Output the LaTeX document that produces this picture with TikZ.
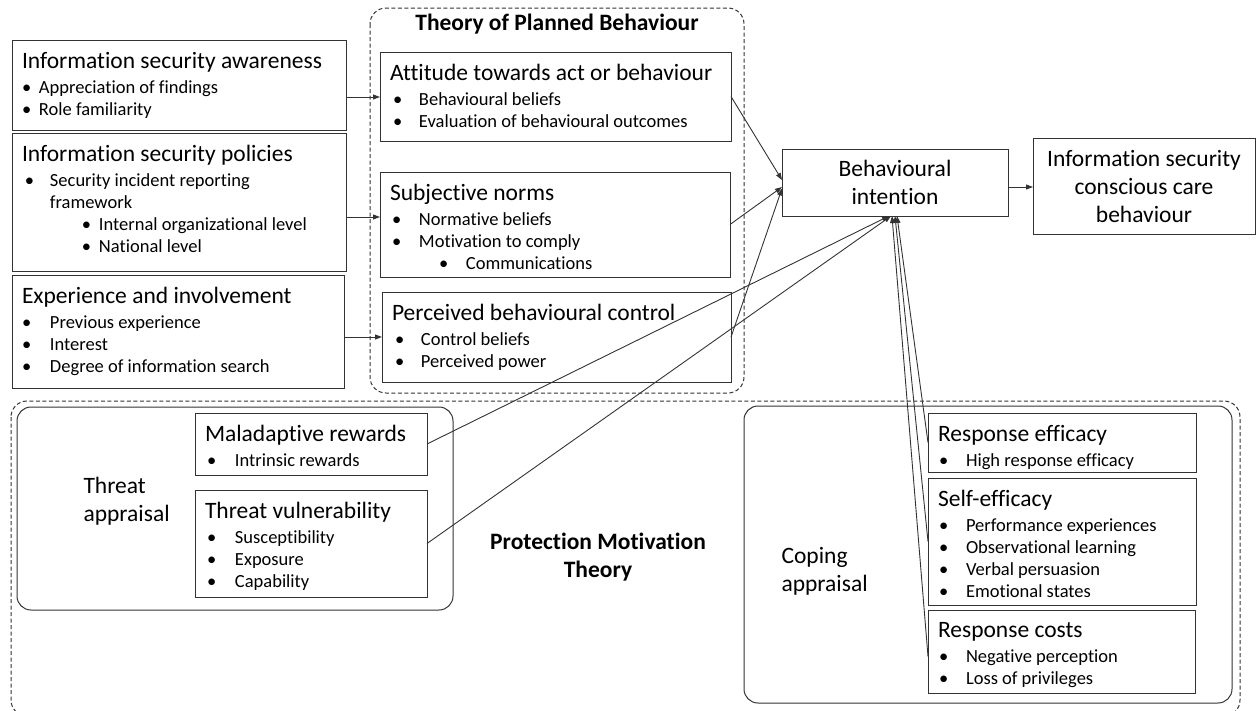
\documentclass[tikz,border=0pt]{standalone}
\usepackage{fontspec}
\setmainfont{Carlito}[Ligatures=NoCommon]
\usetikzlibrary{arrows.meta}
\definecolor{linegray}{HTML}{333333}

% box heading, bullet line, top-aligned box content
\newcommand{\hd}[1]{{\fontsize{23.5}{28}\selectfont #1\par}\vspace{3pt}}
\newcommand{\bl}[3]{\hspace*{#1}\makebox[#2][l]{\textbullet}#3\par}
\newcommand{\bx}[3]{\parbox[c][#2pt][t]{#1pt}{\fontsize{18.5}{22}\selectfont\raggedright\leftskip=10pt\relax\vspace*{12pt}#3}}

\begin{document}
\begin{tikzpicture}[x=1pt,y=-1pt,
	box/.style={draw=linegray, line width=1pt, anchor=north west,
				inner sep=0pt, outer sep=0pt},
	centbox/.style={box, align=center, font=\fontsize{23.5}{28}\selectfont},
	frame/.style={draw=linegray, line width=1pt, dash pattern=on 4pt off 2.5pt,
				  rounded corners=16pt},
	group/.style={draw=linegray, line width=1pt, rounded corners=14pt},
	lbl/.style={font=\fontsize{23.5}{28}\selectfont, align=left, anchor=west},
	heading/.style={font=\fontsize{23.5}{28}\selectfont\bfseries, align=center},
	arr/.style={draw=linegray, line width=0.9pt, -{Triangle[length=7pt,width=5pt]}}]
	\useasboundingbox (0,0) rectangle (1256,710);

	% containers
	\draw[frame] (370,8) rectangle (744,393);
	\draw[frame] (11,401) rectangle (1240,716);
	\draw[group] (17,407) rectangle (453,610);
	\draw[group] (744,406) rectangle (1232,703);

	\node[heading] (tpbt) at (557,24) {Theory of Planned Behaviour};
	\node[heading] (pmtt) at (598,557) {Protection Motivation\\Theory};
	\node[lbl] (ta) at (80,501) {Threat\\appraisal};
	\node[lbl] (ca) at (778,571) {Coping\\appraisal};

	% antecedents
	\node[box] (isa) at (12,40) {\bx{334}{90}{\hd{Information security awareness}
		\bl{0pt}{17pt}{Appreciation of findings}
		\bl{0pt}{17pt}{Role familiarity}}};
	\node[box] (isp) at (12,133) {\bx{334}{138}{\hd{Information security policies}
		\bl{3pt}{25pt}{Security incident reporting}
		\hspace*{28pt}framework\par
		\bl{60pt}{17pt}{Internal organizational level}
		\bl{60pt}{17pt}{National level}}};
	\node[box] (eai) at (12,275) {\bx{332}{113}{\hd{Experience and involvement}
		\bl{0pt}{28pt}{Previous experience}
		\bl{0pt}{28pt}{Interest}
		\bl{0pt}{28pt}{Degree of information search}}};

	% theory of planned behaviour
	\node[box] (att) at (380,52) {\bx{351}{89}{\hd{Attitude towards act or behaviour}
		\bl{3pt}{26pt}{Behavioural beliefs}
		\bl{3pt}{26pt}{Evaluation of behavioural outcomes}}};
	\node[box] (sn) at (380,172) {\bx{350}{105}{\hd{Subjective norms}
		\bl{2pt}{27pt}{Normative beliefs}
		\bl{2pt}{27pt}{Motivation to comply}
		\bl{49pt}{27pt}{Communications}}};
	\node[box] (pbc) at (382,292) {\bx{349}{90}{\hd{Perceived behavioural control}
		\bl{3pt}{26pt}{Control beliefs}
		\bl{3pt}{26pt}{Perceived power}}};

	\node[centbox, minimum width=226pt, minimum height=67pt] (bi) at (782,149)
		{Behavioural\\intention};
	\node[centbox, minimum width=222pt, minimum height=96pt] (iscc) at (1033,138)
		{Information security\\conscious care\\behaviour};

	% protection motivation theory
	\node[box] (mal) at (195,413) {\bx{232}{62}{\hd{Maladaptive rewards}
		\bl{2pt}{28pt}{Intrinsic rewards}}};
	\node[box] (tv) at (195,490) {\bx{232}{107}{\hd{Threat vulnerability}
		\bl{2pt}{28pt}{Susceptibility}
		\bl{2pt}{28pt}{Exposure}
		\bl{2pt}{28pt}{Capability}}};
	\node[box] (re) at (928,413) {\bx{268}{59}{\hd{Response efficacy}
		\bl{1pt}{27pt}{High response efficacy}}};
	\node[box] (se) at (928,478) {\bx{268}{127}{\hd{Self-efficacy}
		\bl{1pt}{27pt}{Performance experiences}
		\bl{1pt}{27pt}{Observational learning}
		\bl{1pt}{27pt}{Verbal persuasion}
		\bl{1pt}{27pt}{Emotional states}}};
	\node[box] (rc) at (928,610) {\bx{267}{83}{\hd{Response costs}
		\bl{1pt}{27pt}{Negative perception}
		\bl{1pt}{27pt}{Loss of privileges}}};

	% connectors
	\draw[arr] ([yshift=-12pt]isa.east) -- ([yshift=-12pt]isa.east -| att.west);
	\draw[arr] ([yshift=-15pt]isp.east) -- ([yshift=-15pt]isp.east -| sn.west);
	\draw[arr] ([yshift=-5.5pt]eai.east) -- ([yshift=-5.5pt]eai.east -| pbc.west);

	\draw[arr] (att.east) -- ([yshift=2.5pt]bi.west);
	\draw[arr] (sn.east) -- ([yshift=-4.5pt]bi.west);
	\draw[arr] (pbc.east) -- ([yshift=-6pt]bi.west);
	\draw[arr] ([yshift=-4.5pt]bi.east) -- ([yshift=-4.5pt]bi.east -| iscc.west);

	\draw[arr] (mal.east) -- ([xshift=-6pt]bi.south);
	\draw[arr] (tv.east) -- ([xshift=-4pt]bi.south);
	\draw[arr] (re.west) -- ([xshift=2pt]bi.south);
	\draw[arr] (se.west) -- (bi.south);
	\draw[arr] ([yshift=-5pt]rc.west) -- ([xshift=-3pt]bi.south);
\end{tikzpicture}
\end{document}
